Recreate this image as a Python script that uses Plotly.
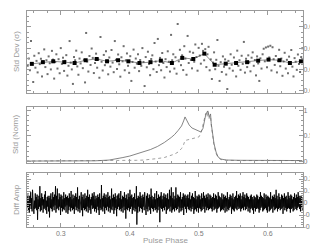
import numpy as np
import plotly.graph_objects as go

# ---------------- data ----------------
# top panel: per-phase-bin std dev (units of 1e-4), on a uniform phase grid
std_scatter = [
    318, 352, 297, 434, 331, 242, 365, 309, 341, 287, 377, 326, 351, 268, 339, 395, 312, 344, 279, 362, 330, 301, 388, 347, 258,
    336, 372, 305, 349, 283, 401, 327, 356, 294, 341, 368, 272, 318, 434, 333, 301, 233, 359, 344, 389, 315, 276, 352, 329, 381,
    307, 346, 240, 472, 338, 291, 364, 322, 399, 355, 284, 331, 375, 309, 348, 262, 453, 337, 296, 369, 321, 386, 343, 278, 357,
    314, 392, 333, 288, 434, 346, 303, 371, 325, 267, 358, 339, 410, 297, 344, 376, 318, 285, 363, 247, 336, 394, 309, 352, 328,
    372, 293, 345, 318, 401, 336, 223, 359, 311, 384, 327, 274, 350, 367, 302, 425, 338, 289, 444, 321, 355, 297, 378, 331, 263,
    349, 312, 386, 337, 291, 463, 344, 372, 305, 358, 281, 514, 339, 393, 321, 367, 298, 410, 352, 276, 458, 331, 384, 345, 306,
    379, 337, 418, 359, 295, 402, 366, 328, 421, 388, 344, 396, 312, 372, 407, 297, 348, 256, 333, 381, 302, 346, 439, 318, 247,
    335, 289, 362, 314, 348, 277, 209, 341, 306, 372, 323, 295, 357, 331, 268, 389, 318, 344, 299, 365, 327, 430, 286, 351, 312,
    367, 334, 292, 356, 381, 318, 345, 273, 362, 329, 247, 353, 305, 372, 398, 339, 404, 311, 408, 357, 412, 296, 405, 349, 322,
    364, 287, 341, 393, 316, 352, 271, 338, 379, 305, 346, 283, 361, 327, 392, 314, 268, 354, 337, 299, 371, 326, 289, 359, 400,
]
scatter_phase_start, scatter_phase_end = 0.252, 0.650

# binned mean std dev
bin_phase = [0.258, 0.274, 0.289, 0.305, 0.320, 0.336, 0.352, 0.367, 0.383, 0.398, 0.414, 0.430, 0.445,
             0.461, 0.476, 0.492, 0.508, 0.523, 0.539, 0.554, 0.570, 0.586, 0.601, 0.617, 0.632, 0.648]
bin_std = [0.0327, 0.0335, 0.0339, 0.0335, 0.0331, 0.0344, 0.0350, 0.0339, 0.0344, 0.0339, 0.0331, 0.0335, 0.0342,
           0.0331, 0.0355, 0.0350, 0.0375, 0.0323, 0.0328, 0.0331, 0.0335, 0.0342, 0.0347, 0.0344, 0.0331, 0.0339]

# middle panel: normalised profiles
prof_phase = [0.25, 0.30, 0.35, 0.37, 0.38, 0.39, 0.40, 0.41, 0.42, 0.43, 0.44, 0.45, 0.46, 0.465, 0.47, 0.475,
              0.478, 0.480, 0.483, 0.486, 0.49, 0.495, 0.50, 0.503, 0.506, 0.508, 0.510, 0.512, 0.513, 0.515,
              0.517, 0.518, 0.520, 0.522, 0.525, 0.528, 0.532, 0.54, 0.56, 0.60, 0.65]
prof_solid = [0.0, 0.0, 0.005, 0.02, 0.04, 0.07, 0.10, 0.14, 0.18, 0.23, 0.29, 0.37, 0.47, 0.53, 0.61, 0.70,
              0.80, 0.88, 0.80, 0.72, 0.66, 0.63, 0.60, 0.58, 0.65, 0.80, 0.92, 0.98, 1.0, 0.88,
              0.94, 0.75, 0.55, 0.35, 0.18, 0.08, 0.04, 0.02, 0.015, 0.01, 0.01]
prof_dash = [0.0, 0.0, 0.0, 0.0, 0.005, 0.008, 0.01, 0.015, 0.02, 0.03, 0.05, 0.07, 0.11, 0.14, 0.18, 0.25,
             0.33, 0.41, 0.42, 0.43, 0.44, 0.46, 0.48, 0.55, 0.70, 0.82, 0.95, 0.88, 1.0, 0.85,
             0.90, 0.72, 0.50, 0.32, 0.15, 0.07, 0.03, 0.015, 0.01, 0.01, 0.01]

# bottom panel: difference amplitude (units of 0.01), uniform phase grid
diff_amp = [
    5, -4, 7, -6, 3, -8, 6, -2, 9, -5, 4, -7, 11, -3, 6, -9, 2, -5, 8, -4, 5, -6, 7, -14, 3,
    -5, 6, -3, 14, -7, 4, -6, 8, -2, 5, -8, 3, -5, 7, -4, 10, -6, 2, -9, 5, -3, 6, -7, 4, -12,
    6, -4, 8, -5, 3, -7, 9, -3, 5, -6, 7, -2, 14, -8, 6, -5, 12, -4, 3, -6, 8, -3, 5, -10, 7,
    -4, 6, -7, 3, -5, 9, -6, 4, -3, 7, -8, 5, -2, 6, -9, 4, -6, 8, -3, 5, -7, 10, -4, 3, -6,
    7, -5, 4, -9, 6, -3, 8, -6, 5, -4, 13, -7, 3, -5, 6, -8, 4, -3, 9, -6, 5, -11, 7, -4, 3,
    -6, 8, -5, 4, -7, 6, -3, 11, -8, 5, -4, 7, -6, 3, -9, 5, -2, 8, -5, 6, -4, 9, -7, 3, -5,
    6, -8, 4, -3, 7, -6, 5, -10, 8, -4, 3, -6, 15, -5, 4, -7, 6, -3, 8, -9, 5, -4, 7, -6, 4,
    -3, 9, -7, 5, -4, 6, -8, 3, -5, 12, -6, 4, -3, 7, -9, 5, -6, 8, -4, 3, -11, 6, -5, 7, -3,
    8, -6, 4, -5, 10, -7, 3, -4, 6, -8, 5, -3, 9, -6, 4, -13, 7, -5, 3, -6, 8, -4, 5, -7, 11,
    -5, 6, -3, 7, -9, 4, -6, 5, -4, 8, -7, 3, -5, 14, -18, 4, -8, 6, -3, 5, -7, 9, -4, 6, -5,
    4, -8, 7, -3, 5, -6, 9, -4, 3, -10, 6, -5, 8, -7, 4, -3, 7, -6, 5, -9, 12, -4, 6, -5, 3,
    -7, 5, -4, 8, -6, 3, -5, 10, -8, 4, -6, 7, -3, 5, -16, 6, -4, 9, -5, 3, -7, 6, -4, 8, -6,
    5, -3, 7, -9, 4, -6, 8, -5, 3, -4, 11, -7, 6, -3, 13, -8, 4, -6, 9, -5, 3, -7, 6, -4, 13,
    -6, 4, -5, 7, -3, 6, -8, 5, -4, 9, -7, 3, -6, 5, -4, 8, -10, 6, -3, 7, -5, 4, -8, 6, -3,
    7, -5, 4, -6, 9, -4, 3, -7, 6, -5, 8, -3, 5, -9, 4, -6, 10, -5, 3, -7, 6, -4, 5, -8, 7,
    -4, 6, -5, 3, -7, 8, -6, 4, -3, 9, -5, 6, -8, 4, -3, 7, -6, 5, -4, 8, -6, 3, -5, 7, -4,
    6, -5, 4, -7, 5, -3, 8, -6, 4, -5, 7, -4, 6, -8, 3, -5, 9, -4, 6, -3, 5, -7, 4, -6, 8,
    -5, 3, -6, 7, -4, 5, -8, 6, -3, 4, -7, 9, -5, 3, -6, 5, -4, 7, -3, 6, -9, 4, -5, 8, -6,
    3, -7, 5, -4, 6, -5, 10, -6, 4, -3, 7, -5, 6, -4, 8, -7, 3, -5, 6, -4, 9, -6, 5, -3, 7,
    -6, 4, -5, 8, -3, 6, -7, 5, -4, 3, -8, 6, -5, 7, -4, 5, -6, 3, -9, 6, -4, 5, -7, 4, -5,
    7, -4, 6, -5, 3, -8, 5, -6, 9, -4, 6, -3, 5, -7, 4, -6, 8, -5, 3, -4, 7, -6, 5, -8, 6,
    -3, 5, -7, 4, -6, 9, -5, 3, -4, 6, -8, 5, -3, 7, -6, 4, -5, 11, -4, 6, -7, 3, -5, 8, -4,
    5, -6, 3, -5, 7, -4, 6, -9, 4, -3, 8, -6, 5, -4, 6, -7, 3, -5, 9, -4, 6, -5, 4, -8, 7,
    -5, 6, -4, 3, -7, 5, -6, 8, -3, 4, -5, 7, -6, 5, -4, 9, -3, 6, -5, 4, -7, 6, -4, 5, -6,
]
diff_phase_start, diff_phase_end = 0.251, 0.650

x_tickvals = [0.3, 0.4, 0.5, 0.6]
x_ticktext = ["0.3", "0.4", "0.5", "0.6"]

# ---------------- figure ----------------
sc_phase = np.linspace(scatter_phase_start, scatter_phase_end, len(std_scatter))
sc_vals = np.array(std_scatter) * 1e-4
df_phase = np.linspace(diff_phase_start, diff_phase_end, len(diff_amp))
df_vals = np.array(diff_amp) * 0.01

fig = go.Figure()
fig.add_trace(go.Scatter(x=sc_phase, y=sc_vals, mode="markers",
                         marker=dict(size=2, color="#6e6e6e", symbol="square"),
                         xaxis="x", yaxis="y", showlegend=False))
fig.add_trace(go.Scatter(x=bin_phase, y=bin_std, mode="lines+markers",
                         line=dict(color="#444", width=0.6),
                         marker=dict(size=4, color="#000", symbol="square"),
                         xaxis="x", yaxis="y", showlegend=False))
fig.add_trace(go.Scatter(x=prof_phase, y=prof_dash, mode="lines",
                         line=dict(color="#888", width=0.8, dash="dot"),
                         xaxis="x2", yaxis="y2", showlegend=False))
fig.add_trace(go.Scatter(x=prof_phase, y=prof_solid, mode="lines",
                         line=dict(color="#666", width=0.8),
                         xaxis="x2", yaxis="y2", showlegend=False))
fig.add_trace(go.Scatter(x=df_phase, y=df_vals, mode="lines",
                         line=dict(color="#000", width=0.9),
                         xaxis="x3", yaxis="y3", showlegend=False))

frame = "#9a9a9a"
tickfont = dict(family="Liberation Sans, Arial, sans-serif", size=7, color="#7a7a7a")


def xax(anchor, labels):
    return dict(anchor=anchor, domain=[0, 1], range=[0.251, 0.651],
                showline=True, linecolor=frame, linewidth=1, mirror="ticks",
                ticks="inside", ticklen=4, tickcolor=frame,
                tickvals=x_tickvals, ticktext=x_ticktext, showticklabels=labels,
                tickfont=tickfont, showgrid=False, zeroline=False,
                minor=dict(ticks="inside", ticklen=2, dtick=0.02, tick0=0.0, tickcolor=frame))


def yax(anchor, dom, rng, vals, texts, mdt):
    return dict(anchor=anchor, domain=dom, range=rng, side="right",
                showline=True, linecolor=frame, linewidth=1, mirror="ticks",
                ticks="inside", ticklen=4, tickcolor=frame,
                tickvals=vals, ticktext=texts, tickfont=tickfont,
                ticklabelstandoff=-2,
                showgrid=False, zeroline=False,
                minor=dict(ticks="inside", ticklen=2, dtick=mdt, tick0=0.0, tickcolor=frame))


fig.update_layout(
    width=318, height=245,
    margin=dict(l=19, r=23, t=3, b=26),
    paper_bgcolor="white", plot_bgcolor="white",
    xaxis=xax("y", False),
    xaxis2=xax("y2", False),
    xaxis3=xax("y3", True),
    yaxis=yax("x", [0.620, 1.0], [0.019, 0.0575], [0.02, 0.03, 0.04, 0.05],
              ["0.02", "0.03", "0.04", "0.05"], 0.0025),
    yaxis2=yax("x2", [0.296, 0.556], [-0.04, 1.08], [0, 0.5, 1], ["0", "0.5", "1"], 0.1),
    yaxis3=yax("x3", [0.0, 0.25], [-0.2, 0.25], [-0.2, -0.1, 0, 0.1, 0.2],
               ["-0.2", "-0.1", "0", "0.1", "0.2"], 0.02),
)

titlefont = dict(family="Liberation Sans, Arial, sans-serif", size=8, color="#9a9a9a")
for txt, ymid in [("Std Dev (σ)", (0.620 + 1.0) / 2), ("Std (Norm)", (0.296 + 0.556) / 2),
                  ("Diff Amp", 0.125)]:
    fig.add_annotation(text=txt, xref="paper", yref="paper", x=0, y=ymid, xshift=-11,
                       textangle=-90, showarrow=False, font=titlefont,
                       xanchor="center", yanchor="middle")
fig.add_annotation(text="Pulse Phase", xref="paper", yref="paper", x=0.5, y=0, yshift=-13,
                   showarrow=False, font=titlefont, xanchor="center", yanchor="middle")

fig.write_html("out.html")
